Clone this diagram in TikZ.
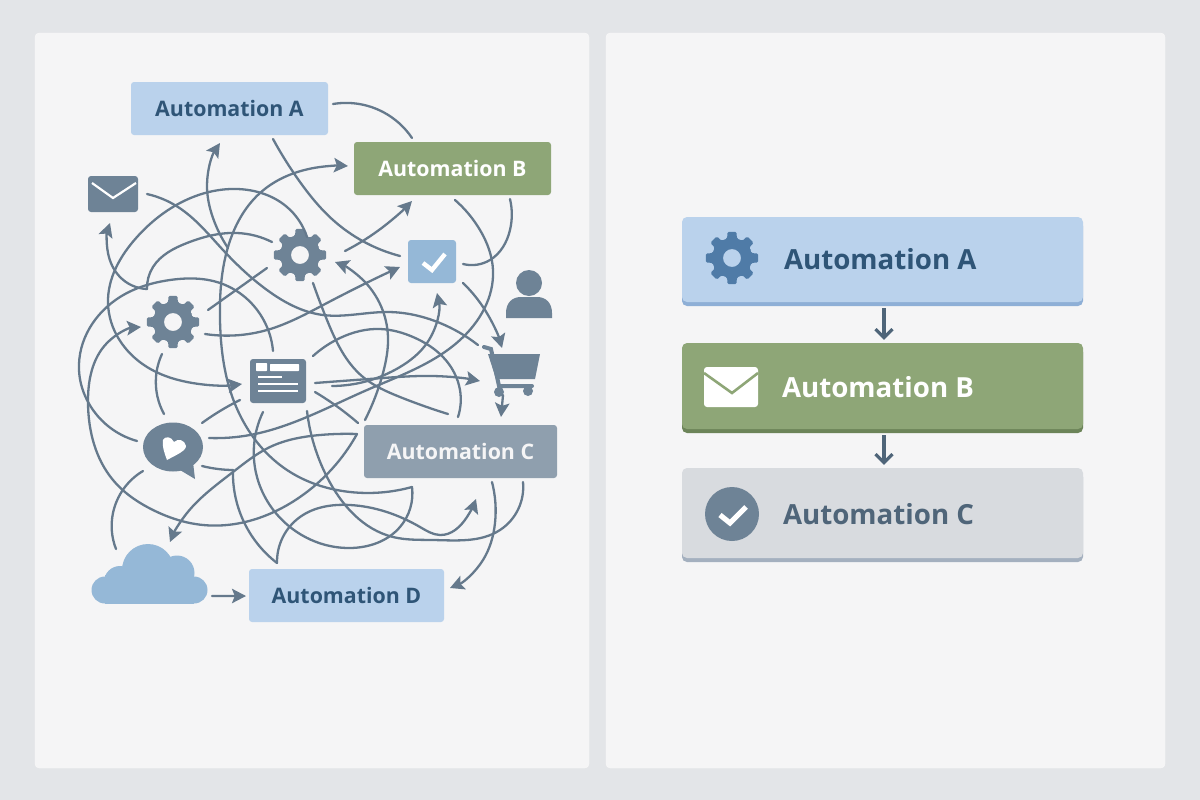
\documentclass[tikz,border=0pt]{standalone}
\usepackage{fontspec}
\setmainfont{Open Sans}
\usepackage{tikz}
\usetikzlibrary{calc,arrows.meta,shapes.geometric,hobby}
\def\myPx{0.05cm}
\definecolor{pageGray}{HTML}{E3E5E8}
\definecolor{panelGray}{HTML}{F5F5F6}
\definecolor{boxBlue}{HTML}{BAD2EC}
\definecolor{lipBlue}{HTML}{8EAFD6}
\definecolor{boxGreen}{HTML}{8EA677}
\definecolor{lipGreen}{HTML}{6C8459}
\definecolor{boxSlate}{HTML}{8F9FAE}
\definecolor{boxGray}{HTML}{D8DBDF}
\definecolor{lipGray}{HTML}{A4B0BF}
\definecolor{inkBlue}{HTML}{2F5577}
\definecolor{inkSlate}{HTML}{4F6579}
\definecolor{iconSlate}{HTML}{6E8396}
\definecolor{iconBlue}{HTML}{95B8D7}
\definecolor{gearBlue}{HTML}{4F7BA7}
\definecolor{lineSlate}{HTML}{65798C}
\newcommand{\myGear}[2]{\fill[#2,even odd rule,rounded corners=2pt,shift={(#1)}] (-22.5:20)
  \foreach \a in {0,45,...,315}{ -- (\a-14:20) -- (\a-10:26.5) -- (\a+10:26.5) -- (\a+14:20) -- (\a+22.5:20)} -- cycle
  (0,0) circle (9);}
\begin{document}
\begin{tikzpicture}[x=0.05cm,y=-0.05cm]
      \tikzstyle{panel} = [fill=panelGray, draw=white!60!panelGray, rounded corners=4*\myPx]
      \tikzstyle{tagBox} = [rectangle, rounded corners=3*\myPx, minimum width=197*\myPx, minimum height=53*\myPx, font=\fontsize{30.4}{36}\selectfont\bfseries]
      \tikzstyle{rowBox} = [rectangle, rounded corners=5*\myPx, minimum width=401*\myPx, preaction={fill=#1, transform canvas={yshift=-4*\myPx}}]
      \tikzstyle{rowLabel} = [anchor=west, inner sep=0pt, font=\fontsize{39.4}{46}\selectfont\bfseries]
      \tikzstyle{spot} = [inner sep=0pt, minimum size=1pt]
      \tikzstyle{link} = [draw=lineSlate, line width=0.115cm, line cap=round, use Hobby shortcut]
      \tikzstyle{flow} = [link, -{Stealth[length=0.7cm,width=0.72cm,inset=0.14cm]}]
      \tikzstyle{stepArrow} = [draw=inkSlate, line width=0.16cm, -{Straight Barb[length=0.42cm,width=0.85cm]}]
      \useasboundingbox[fill=pageGray] (0,0) rectangle (1200,800);
      \draw[panel] (35,33) rectangle (589,768);
      \draw[panel] (606,33) rectangle (1165,768);
      % Left panel boxes
      \node[tagBox, fill=boxBlue, text=inkBlue](autoA) at (229.5,108.5){Automation A};
      \node[tagBox, fill=boxGreen, text=white](autoB) at (452.5,168.5){Automation B};
      \node[tagBox, fill=boxSlate, text=panelGray, minimum width=193*\myPx](autoC) at (460.5,451.5){Automation C};
      \node[tagBox, fill=boxBlue, text=inkBlue, minimum width=195*\myPx](autoD) at (346.5,595.5){Automation D};
      % Left panel icons
      \node[spot, fill=iconSlate, rounded corners=3*\myPx, minimum width=50*\myPx, minimum height=36*\myPx](mailIcon) at (113,194){};
      \draw[white, line width=0.11cm] (92,183) -- (113,198) -- (136,183);
      \node[spot, fill=iconBlue, rounded corners=3*\myPx, minimum width=48*\myPx, minimum height=43*\myPx](checkIcon) at (432,261.5){};
      \draw[white, line width=0.22cm] (423,263) -- (432,270) -- (445,254);
      \node[spot, circle](gearA) at (173,322){};
      \node[spot, circle](gearB) at (300,255){};
      \myGear{gearA}{iconSlate}
      \myGear{gearB}{iconSlate}
      \node[spot](personIcon) at (529,300){};
      \fill[iconSlate] (529,283) circle (13);
      \fill[iconSlate] (506,318) -- (506,313) .. controls (506,303) and (512,297) .. (521,297) -- (537,297) .. controls (546,297) and (552,303) .. (552,313) -- (552,318) -- cycle;
      \node[spot, fill=iconSlate, rounded corners=3*\myPx, minimum width=56*\myPx, minimum height=44*\myPx](docIcon) at (278,381){};
      \fill[white, rounded corners=1pt] (256,363) rectangle (267,371) (270,364) rectangle (299,371);
      \draw[white, line width=0.12cm] (258,377) -- (282,377) (258,384) -- (298,384) (258,391) -- (298,391);
      \node[spot, ellipse, fill=iconSlate, minimum width=60*\myPx, minimum height=49*\myPx](chatIcon) at (173,447){};
      \fill[iconSlate] (180,470) -- (195,479) -- (193,462) -- cycle;
      \fill[white] (167,460) .. controls (164,452) and (162,446) .. (163,440) .. controls (165,436) and (171,436) .. (174,442) .. controls (178,438) and (185,440) .. (186,446) .. controls (186,451) and (176,455) .. (167,460) -- cycle;
      \node[spot](cartIcon) at (510,370){};
      \draw[iconSlate, line width=0.2cm, line cap=round] (484,347) -- (491,349) -- (499,386) -- (532,386);
      \fill[iconSlate] (488,354) -- (540,354) -- (535,379) -- (496,379) -- cycle;
      \fill[iconSlate] (499,392) circle (5) (528,391) circle (5);
      \node[spot](cloudIcon) at (148,575){};
      \fill[iconBlue] (148,570) circle (26);
      \fill[iconBlue] (120,582) circle (16);
      \fill[iconBlue] (105,590) circle (13.5);
      \fill[iconBlue] (177,573) circle (17.5);
      \fill[iconBlue] (194,590) circle (13.5);
      \fill[iconBlue] (105,575) rectangle (194,603.5);
      % Loose ends
      \foreach \name/\base/\dx/\dy in {
        mailOut/mailIcon/34/0, mailIn/mailIcon/-3/29,
        autoAIn/autoA/-9.5/34.5, autoAEast/autoA/103.5/-4.5, autoASouth/autoA/43.5/30.5,
        autoBTop/autoB/-40.5/-30.5, autoBWest/autoB/-104.5/-2.5, autoBIn/autoB/-40.5/32.5,
        autoBSouth/autoB/2.5/31.5, autoBEast/autoB/57.5/30.5,
        checkWest/checkIcon/-32/-5.5, checkIn/checkIcon/-32/5.5, checkEast/checkIcon/31/2.5,
        checkLow/checkIcon/31/21.5, checkBase/checkIcon/5/31.5,
        gearBTop/gearB/7/-18, gearBWest/gearB/-28/-13, gearBLow/gearB/-33/13, gearBBase/gearB/13/28,
        gearBEast/gearB/45/-4, gearBIn/gearB/35/7,
        gearAIn/gearA/-32/5, gearATop/gearA/35/-12, gearAEast/gearA/32/12, gearABase/gearA/-11/32,
        chatTop/chatIcon/-9/-33, chatRise/chatIcon/29/-24, chatEast/chatIcon/36/-9,
        chatLow/chatIcon/29/19, chatDown/chatIcon/-30/24, chatWest/chatIcon/-36/-6,
        docIn/docIcon/-36/3, docTop/docIcon/-5/-30, docRise/docIcon/35/-25, docEast/docIcon/37/2,
        docLow/docIcon/37/11, docFar/docIcon/54/5, docBase/docIcon/-15/31, docDrop/docIcon/29/30, docSide/docIcon/-38/19,
        cartWest/cartIcon/-30/11, cartTop/cartIcon/-8/-22, cartOut/cartIcon/-7/25, cartBack/cartIcon/-32/-25,
        autoCTopA/autoC/-95.5/-31.5, autoCTopB/autoC/-102.5/-28.5, autoCTopC/autoC/-12.5/-37.5,
        autoCTopD/autoC/-2.5/-34.5, autoCNorth/autoC/40.5/-34.5, autoCIn/autoC/15.5/47.5,
        autoCBase/autoC/31.5/30.5, autoCEnd/autoC/62.5/30.5, autoCCusp/autoC/-103.5/-17.5, autoCHook/autoC/-48.5/35.5,
        autoDEast/autoD/103.5/-7.5, autoDCusp/autoD/-69.5/-32.5, autoDWest/autoD/-100.5/0.5,
        cloudIn/cloudIcon/22/-33, cloudEast/cloudIcon/64/21, cloudTop/cloudIcon/-32/-26,
        chatCusp/chatIcon/60/23, mailBend/mailIcon/34/95, autoABend/autoA/-1.5/139.5}
        \coordinate (\name) at ($(\base)+(\dx,\dy)$);
      % Connections
      \draw[flow] (autoABend) .. (213,218) .. (207,185) .. (autoAIn);
      \draw[link] (mailOut) .. (178,207) .. (223,250) .. (267,290) .. (323,315) .. (387,312) .. (440,323) .. (cartBack);
      \draw[link] (autoAEast) .. (383,112) .. (autoBTop);
      \draw[link] (autoASouth) .. (300,182) .. (333,220) .. (checkWest);
      \draw[flow] (gearBEast) .. (383,227) .. (autoBIn);
      \draw[flow] (gearAEast) .. (267,330) .. (327,303) .. (checkIn);
      \draw[flow] (autoCTopA) .. (383,373) .. (388,337) .. (363,280) .. (gearBIn);
      \draw[flow] (docFar) .. (400,367) .. (427,343) .. (checkBase);
      \draw[flow] (docEast) .. (383,378) .. (433,376) .. (cartWest);
      \draw[link] (docLow) .. (335,405) .. (autoCTopB);
      \draw[link] (gearBBase) .. (327,320) .. (363,377) .. (400,397) .. (autoCTopC);
      \draw[link] (docRise) .. (340,338) .. (380,329) .. (413,337) .. (443,357) .. (460,390) .. (autoCTopD);
      \draw[link] (autoBSouth) .. (480,230) .. (493,270) .. (460,340) .. (367,390) .. (307,417) .. (250,435) .. (chatEast);
      \draw[link] (chatLow) .. (218,469) .. (chatCusp);
      \draw[link] (chatCusp) .. (243,520) .. (autoDCusp);
      \draw[flow] (autoDCusp) .. (300,517) .. (350,505) .. (420,527) .. (440,535) .. (467,517) .. (autoCIn);
      \draw[flow] (autoCCusp) .. (320,435) .. (270,447) .. (233,472) .. (187,513) .. (cloudIn);
      \draw[flow] (autoCCusp) .. (300,497) .. (203,525) .. (153,510) .. (113,480) .. (88,403) .. (107,343) .. (gearAIn);
      \draw[link] (chatWest) .. (87,400) .. (79,370) .. (120,297) .. (170,280) .. (220,283) .. (267,327) .. (docTop);
      \draw[link] (gearATop) -- (gearBLow);
      \draw[link] (gearBWest) .. (237,233) .. (187,243) .. (153,267) .. (mailBend);
      \draw[flow] (mailBend) .. (120,277) .. (108,253) .. (mailIn);
      \draw[flow] (gearBTop) .. (287,207) .. (237,189) .. (180,203) .. (137,237) .. (108,303) .. (147,367) .. (187,382) .. (docIn);
      \draw[link] (gearABase) .. (156,377) .. (chatTop);
      \draw[link] (chatRise) .. (220,411) .. (docSide);
      \draw[link] (chatDown) .. (113,513) .. (cloudTop);
      \draw[flow] (cloudEast) -- (autoDWest);
      \draw[link] (docDrop) .. (327,477) .. (393,537) .. (433,540) .. (500,530) .. (autoCEnd);
      \draw[flow] (autoCBase) .. (495,523) .. (483,560) .. (autoDEast);
      \draw[flow] (cartOut) -- (autoCNorth);
      \draw[link] (checkEast) .. (490,260) .. (510,230) .. (autoBEast);
      \draw[flow] (checkLow) .. (485,310) .. (cartTop);
      \draw[flow] (autoCHook) .. (350,492) .. (287,470) .. (230,390) .. (220,320) .. (228,247) .. (260,193) .. (320,167) .. (autoBWest);
      \draw[link] (docBase) .. (257,477) .. (290,527) .. (350,548) .. (400,527) .. (autoCHook);
      % Right panel
      \node[rowBox=lipBlue, fill=boxBlue, minimum height=85*\myPx](rowA) at (882.5,259.5){};
      \node[rowBox=lipGreen, fill=boxGreen, minimum height=86*\myPx](rowB) at (882.5,386){};
      \node[rowBox=lipGray, fill=boxGray, minimum height=90*\myPx](rowC) at (882.5,513){};
      \node[rowLabel, text=inkBlue](rowAText) at ($(rowA.west)+(102,0)$){Automation A};
      \node[rowLabel, text=white](rowBText) at ($(rowB.west)+(100,1)$){Automation B};
      \node[rowLabel, text=inkSlate](rowCText) at ($(rowC.west)+(101,1)$){Automation C};
      \node[spot](rowGear) at (732,258){};
      \myGear{rowGear}{gearBlue}
      \node[spot, fill=white, rounded corners=3*\myPx, minimum width=54*\myPx, minimum height=40*\myPx](rowMail) at (731,387){};
      \draw[boxGreen, line width=0.13cm] (704,373) -- (732,393) -- (758,373);
      \node[spot, circle, fill=iconSlate, minimum size=54*\myPx](rowCheck) at (732,514){};
      \draw[white, line width=0.26cm] (720,515) -- (730,523) -- (746,507);
      \draw[stepArrow] ($(rowA.south)+(1.5,6)$) -- ($(rowB.north)+(1.5,-3)$);
      \draw[stepArrow] ($(rowB.south)+(1.5,6)$) -- ($(rowC.north)+(1.5,-3)$);
\end{tikzpicture}
\end{document}
